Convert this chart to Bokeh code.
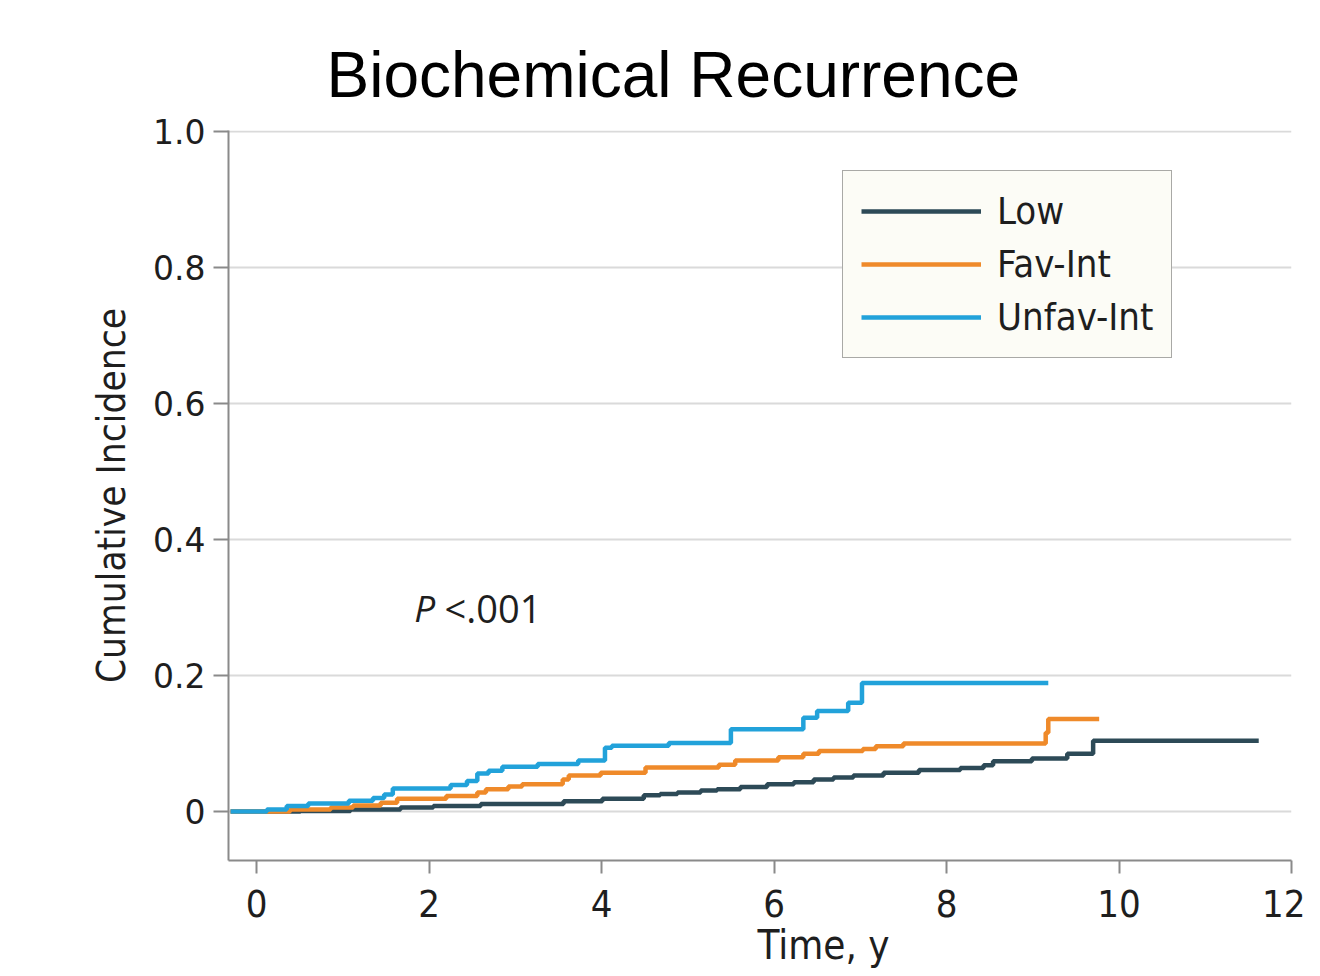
from bokeh.plotting import figure
from bokeh.models import Range1d, FixedTicker, Title, Label
from bokeh.embed import file_html
from bokeh.resources import INLINE

# ---- data ----
series_names = ["Low", "Fav-Int", "Unfav-Int"]

low_t = [-0.3, 0.51, 1.09, 1.67, 2.05, 2.6, 3.56, 4.01, 4.49, 4.68, 4.88, 5.15, 5.34, 5.61,
         5.92, 6.23, 6.46, 6.69, 6.92, 7.27, 7.68, 8.16, 8.43, 8.54, 8.99, 9.4, 9.7, 11.62]
low_y = [0, 0.001, 0.003, 0.006, 0.008, 0.011, 0.015, 0.019, 0.024, 0.026, 0.028, 0.031, 0.033,
         0.036, 0.04, 0.043, 0.047, 0.05, 0.053, 0.057, 0.061, 0.064, 0.068, 0.074, 0.078,
         0.085, 0.104, 0.104]

fav_t = [-0.3, 0.39, 0.86, 1.12, 1.44, 1.63, 2.2, 2.56, 2.66, 2.92, 3.08, 3.55, 3.62, 3.99,
         4.51, 5.36, 5.55, 6.05, 6.34, 6.52, 7.03, 7.18, 7.5, 9.15, 9.18, 9.77]
fav_y = [0, 0.003, 0.006, 0.009, 0.013, 0.019, 0.023, 0.028, 0.033, 0.037, 0.04, 0.047, 0.053,
         0.057, 0.065, 0.069, 0.075, 0.08, 0.085, 0.089, 0.092, 0.096, 0.1, 0.116, 0.136, 0.136]

unfav_t = [-0.3, 0.12, 0.35, 0.6, 1.07, 1.35, 1.48, 1.58, 2.25, 2.44, 2.56, 2.69, 2.85, 3.26,
           3.73, 4.04, 4.12, 4.78, 5.5, 6.34, 6.5, 6.86, 7.02, 9.18]
unfav_y = [0, 0.003, 0.008, 0.012, 0.016, 0.02, 0.025, 0.034, 0.039, 0.045, 0.056, 0.06, 0.066,
           0.07, 0.075, 0.094, 0.097, 0.101, 0.121, 0.138, 0.148, 0.16, 0.189, 0.189]

x_ticks = [0, 2, 4, 6, 8, 10, 12]
y_ticks = [0, 0.2, 0.4, 0.6, 0.8, 1.0]
y_tick_labels = ["0", "0.2", "0.4", "0.6", "0.8", "1.0"]

colors = ["#2d4a57", "#ef8a2a", "#22a2da"]

NARROW = "DejaVu Sans Condensed"

p = figure(width=1305, height=968, output_backend="svg", toolbar_location=None,
           x_range=Range1d(-0.325, 12.0), y_range=Range1d(-0.072, 1.002),
           min_border_left=228, min_border_right=14, min_border_top=130, min_border_bottom=108)

p.title = Title(text="Biochemical Recurrence", align="left", offset=98,
                text_font="Liberation Sans", text_font_size="64px", text_font_style="normal",
                text_color="#000000", standoff=39)

p.outline_line_color = None
p.background_fill_color = "white"
p.border_fill_color = "white"

# grid
p.xgrid.grid_line_color = None
p.ygrid.grid_line_color = "#dadada"
p.ygrid.grid_line_width = 2
p.ygrid.ticker = FixedTicker(ticks=y_ticks)

# axes
p.xaxis.ticker = FixedTicker(ticks=x_ticks)
p.yaxis.ticker = FixedTicker(ticks=y_ticks)
p.yaxis.major_label_overrides = {t: s for t, s in zip(y_ticks, y_tick_labels)}
for ax in (p.xaxis, p.yaxis):
    ax.axis_line_color = "#8a8a8a"
    ax.axis_line_width = 2
    ax.major_tick_line_color = "#8a8a8a"
    ax.major_tick_line_width = 2
    ax.minor_tick_line_color = None
    ax.major_tick_in = 0
    ax.major_label_text_color = "#1e1e1e"
p.xaxis.major_tick_out = 13
p.yaxis.major_tick_out = 15
p.xaxis.major_label_text_font = NARROW
p.xaxis.major_label_text_font_size = "38px"
p.xaxis.major_label_standoff = 16
p.yaxis.major_label_text_font = "DejaVu Sans"
p.yaxis.major_label_text_font_size = "33px"
p.yaxis.major_label_standoff = 8
p.yaxis.axis_label = "Cumulative Incidence"
p.yaxis.axis_label_text_font = NARROW
p.yaxis.axis_label_text_font_size = "38.5px"
p.yaxis.axis_label_text_font_style = "normal"
p.yaxis.axis_label_text_color = "#1e1e1e"
p.yaxis.axis_label_standoff = 16

p.add_layout(Title(text="Time, y", align="left", offset=529, text_font=NARROW,
                   text_font_size="40px", text_font_style="normal", text_color="#1e1e1e",
                   standoff=0), "below")

# curves
for t, y, c, name in zip([low_t, fav_t, unfav_t], [low_y, fav_y, unfav_y], colors, series_names):
    p.step(t, y, mode="after", line_color=c, line_width=4.5, legend_label=name)

# p-value annotation
p.add_layout(Label(x=1.83, y=0.30, text="P", text_font="Open Sans", text_font_size="37px",
                   text_font_style="italic", text_color="#1e1e1e", text_baseline="middle"))
p.add_layout(Label(x=2.18, y=0.30, text="<.001", text_font="Open Sans", text_font_size="38px",
                   text_color="#1e1e1e", text_baseline="middle"))

# legend
lg = p.legend[0]
lg.location = (614, 502)
lg.background_fill_color = "#fcfcf6"
lg.background_fill_alpha = 1
lg.border_line_color = "#555555"
lg.border_line_width = 1.5
lg.label_text_font = NARROW
lg.label_text_font_size = "38px"
lg.label_text_color = "#1e1e1e"
lg.glyph_width = 120
lg.glyph_height = 44
lg.label_height = 44
lg.label_standoff = 16
lg.spacing = 9
lg.padding = 18
lg.margin = 0

open("out.html", "w").write(file_html(p, INLINE))
